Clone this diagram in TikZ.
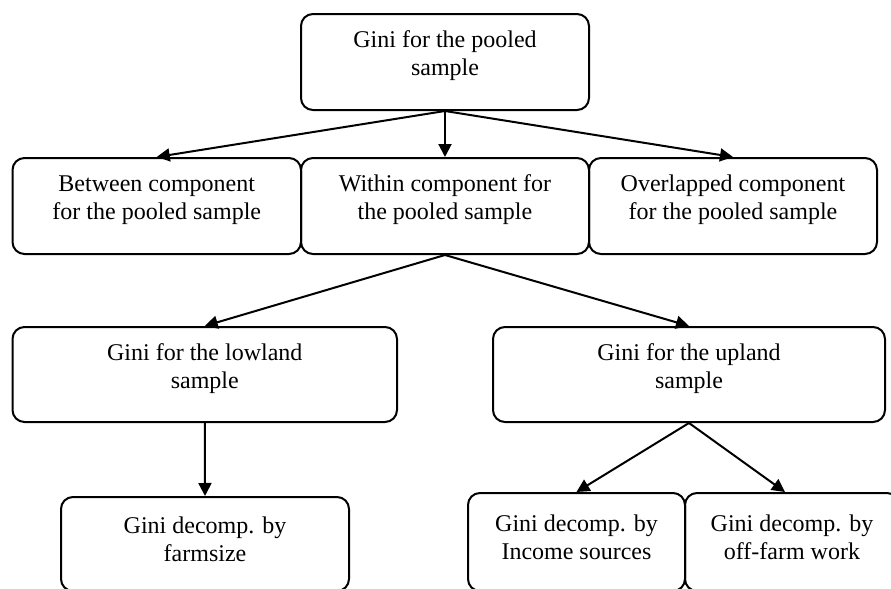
\documentclass[tikz,border=0pt]{standalone}
\usepackage{fontspec}
\setmainfont{Liberation Serif}
\usetikzlibrary{arrows.meta}

\begin{document}
\begin{tikzpicture}[x=0.5pt,y=-0.5pt,
  cell/.style={draw,line width=1pt,rounded corners=6pt,inner sep=0pt},
  txt/.style={align=center,inner sep=0pt,font=\fontsize{12}{14}\selectfont},
  link/.style={line width=1pt,-{Triangle[length=6.5pt,width=6.5pt]}}]
\useasboundingbox (0,0) rectangle (891,589);
\clip (0,0) rectangle (891,589);

\node[cell,minimum width=144pt,minimum height=48pt] (pooled) at (445,62) {};
\node[txt] (pooled-t) at (445,56) {Gini for the pooled\\sample};

\node[cell,minimum width=144.25pt,minimum height=48pt] (between) at (156.75,206) {};
\node[txt] (between-t) at (156.75,200) {Between component\\for the pooled sample};

\node[cell,minimum width=144pt,minimum height=48pt] (within) at (445,206) {};
\node[txt] (within-t) at (445,200) {Within component for\\the pooled sample};

\node[cell,minimum width=144pt,minimum height=48pt] (overlap) at (733,206) {};
\node[txt] (overlap-t) at (733,200) {Overlapped component\\for the pooled sample};

\node[cell,minimum width=192.25pt,minimum height=47.5pt] (lowland) at (204.75,374.5) {};
\node[txt] (lowland-t) at (204.75,368.5) {Gini for the lowland\\sample};

\node[cell,minimum width=196pt,minimum height=47.5pt] (upland) at (689,374.5) {};
\node[txt] (upland-t) at (689,368.5) {Gini for the upland\\sample};

\node[cell,minimum width=144pt,minimum height=47pt] (farmsize) at (205,544) {};
\node[txt] (farmsize-t) at (205,539) {Gini decomp. by\\farmsize};

\node[cell,minimum width=108.5pt,minimum height=49pt] (income) at (576.5,542) {};
\node[txt] (income-t) at (576.5,537) {Gini decomp. by\\Income sources};

\node[cell,minimum width=107pt,minimum height=49pt] (offfarm) at (792,542) {};
\node[txt] (offfarm-t) at (792,537) {Gini decomp. by\\off-farm work};

\draw[link] (pooled.south) to (between.north);
\draw[link] (pooled.south) to (within.north);
\draw[link] (pooled.south) to (overlap.north);
\draw[link] (within.south) to (lowland.north);
\draw[link] (within.south) to (upland.north);
\draw[link] (lowland.south) to (farmsize.north);
\draw[link] (upland.south) to (income.north);
\draw[link] (upland.south) to ([xshift=-3.5pt]offfarm.north);
\end{tikzpicture}
\end{document}
